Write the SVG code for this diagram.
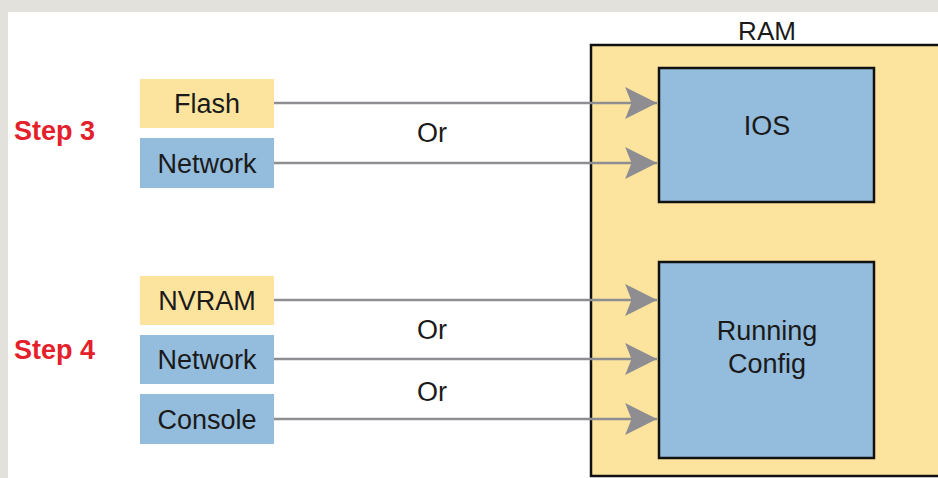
<svg xmlns="http://www.w3.org/2000/svg" width="938" height="478" viewBox="0 0 938 478">
<style>
text{font-family:"Liberation Sans",Arial,sans-serif;font-size:27px;fill:#1a1a1a}
.step{font-weight:bold;fill:#e4202a;font-size:27px}
.c{text-anchor:middle}
.y{fill:#fde49e}
.b{fill:#94bcdc}
.inner{fill:#94bcdc;stroke:#111;stroke-width:2.5}
.conn line{stroke:#8e8e92;stroke-width:2.5}
</style>
<defs>
<marker id="ah" markerUnits="userSpaceOnUse" markerWidth="34" markerHeight="34" viewBox="0 0 32 32" refX="31" refY="16" orient="auto">
<path d="M1 1 L31 16 L1 31 L7 16 Z" fill="#8e8e92"/>
</marker>
</defs>
<rect x="0" y="0" width="938" height="478" fill="#e2e1dc"/>
<rect x="8" y="12" width="930" height="466" fill="#ffffff"/>
<g id="ram">
<rect x="591" y="45" width="360" height="431" fill="#fde49e" stroke="#111" stroke-width="2.5"/>
<text x="767" y="40" class="c" style="font-size:26px">RAM</text>
</g>
<g id="ios">
<rect class="inner" x="659" y="68" width="215" height="134"/>
<text x="767" y="135" class="c">IOS</text>
</g>
<g id="running-config">
<rect class="inner" x="659" y="262" width="215" height="196"/>
<text x="767" y="340" class="c">Running</text>
<text x="767" y="373" class="c">Config</text>
</g>
<g id="step3"><text x="14" y="140" class="step">Step 3</text></g>
<g id="step4"><text x="14" y="359" class="step">Step 4</text></g>
<g id="flash"><rect class="y" x="140" y="79" width="134" height="49"/><text x="207" y="113" class="c">Flash</text></g>
<g id="network1"><rect class="b" x="140" y="138" width="134" height="50"/><text x="207" y="173" class="c">Network</text></g>
<g id="nvram"><rect class="y" x="140" y="276" width="134" height="49"/><text x="207" y="310" class="c">NVRAM</text></g>
<g id="network2"><rect class="b" x="140" y="335" width="134" height="49"/><text x="207" y="369" class="c">Network</text></g>
<g id="console"><rect class="b" x="140" y="394" width="134" height="50"/><text x="207" y="429" class="c">Console</text></g>
<g class="conn" id="connectors">
<line x1="274" y1="103" x2="657" y2="103" marker-end="url(#ah)"/>
<line x1="274" y1="163" x2="657" y2="163" marker-end="url(#ah)"/>
<line x1="274" y1="300" x2="657" y2="300" marker-end="url(#ah)"/>
<line x1="274" y1="359" x2="657" y2="359" marker-end="url(#ah)"/>
<line x1="274" y1="419" x2="657" y2="419" marker-end="url(#ah)"/>
</g>
<g id="labels">
<text x="432" y="142" class="c">Or</text>
<text x="432" y="339" class="c">Or</text>
<text x="432" y="401" class="c">Or</text>
</g>
</svg>
